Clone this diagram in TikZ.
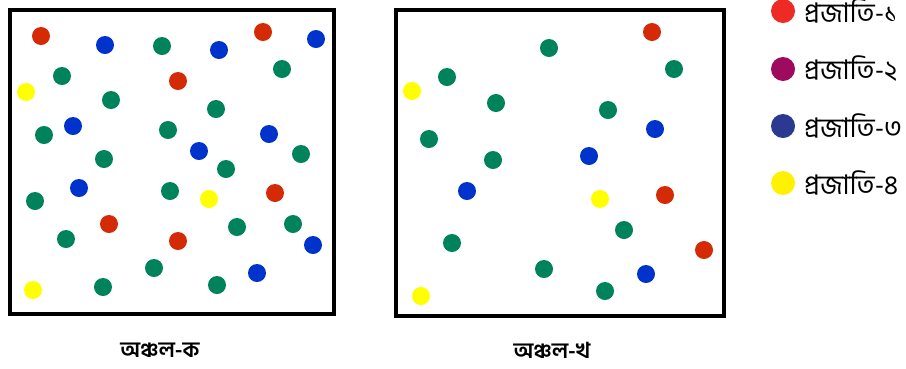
\documentclass[tikz,border=0pt]{standalone}
\usepackage{fontspec}
\newfontfamily\bnfont[Script=Bengali]{Hind Siliguri}
\definecolor{dotred}{HTML}{D42A06}
\definecolor{dotblue}{HTML}{0033CC}
\definecolor{dotgreen}{HTML}{00835A}
\definecolor{dotyellow}{HTML}{FFFF00}
\definecolor{keyred}{HTML}{EE2A24}
\definecolor{keypurple}{HTML}{9E0A5E}
\definecolor{keyblue}{HTML}{2B3990}
\definecolor{keyyellow}{HTML}{FFF200}
\tikzset{
  area/.style={line width=3.5pt},
  keytext/.style={anchor=west,font=\bnfont\fontsize{27}{30}\selectfont,inner sep=0pt},
  arealabel/.style={font=\bnfont\bfseries\fontsize{22}{24}\selectfont,inner sep=0pt}
}
\begin{document}
\begin{tikzpicture}[x=1pt,y=-1pt]
\useasboundingbox (0,0) rectangle (906,368);
\draw[area] (10,10) rectangle (334,314);
\draw[area] (396,10) rectangle (724,316);
\foreach \x/\y in {41/36,263/32,178/81,275/193,109/224,178/241,652/32,665/195,704/250}
  \fill[dotred] (\x,\y) circle (9);
\foreach \x/\y in {105/45,219/50,316/39,73/126,269/134,199/151,79/188,313/245,257/273,655/129,589/156,467/191,646/274}
  \fill[dotblue] (\x,\y) circle (9);
\foreach \x/\y in {162/46,62/76,282/69,111/100,216/109,44/135,168/130,104/159,301/154,226/169,35/201,170/191,66/239,237/227,293/224,154/268,103/287,217/285,549/48,447/77,674/69,496/103,608/110,429/139,493/160,624/230,452/243,544/269,605/291}
  \fill[dotgreen] (\x,\y) circle (9);
\foreach \x/\y in {26/92,209/199,33/290,412/91,600/199,421/296}
  \fill[dotyellow] (\x,\y) circle (9);
\node[arealabel] (labA) at (160,350) {অঞ্চল-ক};
\node[arealabel] (labB) at (552,350) {অঞ্চল-খ};
\fill[keyred] (783,11) circle (12);
\fill[keypurple] (783,69) circle (12);
\fill[keyblue] (783,126) circle (12);
\fill[keyyellow] (783,183) circle (12);
\node[keytext] (key1) at (804,11) {প্রজাতি-১};
\node[keytext] (key2) at (804,69) {প্রজাতি-২};
\node[keytext] (key3) at (804,126) {প্রজাতি-৩};
\node[keytext] (key4) at (804,183) {প্রজাতি-৪};
\end{tikzpicture}
\end{document}
